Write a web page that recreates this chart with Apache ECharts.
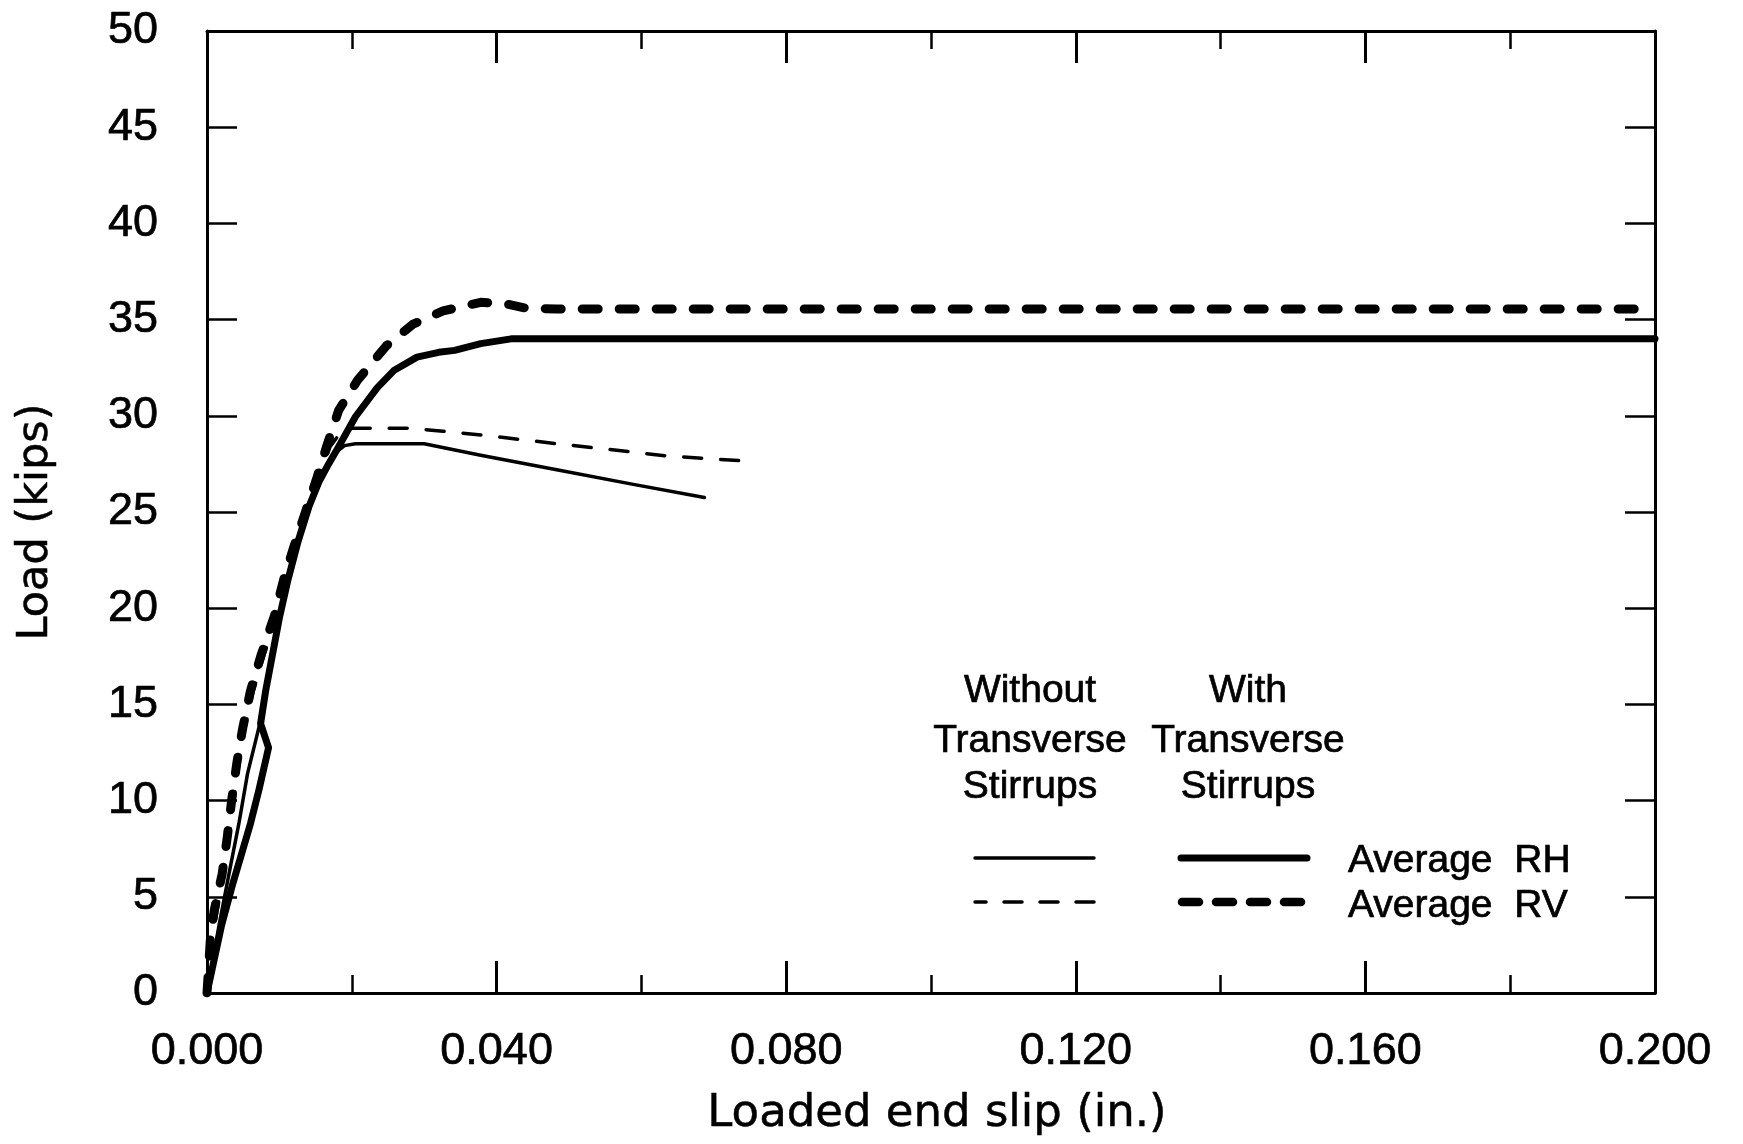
<!DOCTYPE html>
<html>
<head>
<meta charset="utf-8">
<script src="https://cdn.jsdelivr.net/npm/echarts@6/dist/echarts.min.js"></script>
<style>
html,body{margin:0;padding:0;background:#fff;}
#c{width:1743px;height:1144px;}
</style>
</head>
<body>
<div id="c"></div>
<script>
// Data: [slip (in.), load (kips)]
const rhWith = [[0,0],[0.0020,3.5],[0.0035,5.6],[0.0046,7.0],[0.0060,8.8],[0.0072,10.6],[0.0085,12.75],[0.0074,14.0],[0.0081,15.7],[0.0090,17.5],[0.0100,19.5],[0.0112,21.5],[0.0126,23.5],[0.0141,25.3],[0.0155,26.6],[0.0168,27.5],[0.0182,28.4],[0.0205,29.95],[0.0235,31.45],[0.0258,32.35],[0.0290,33.05],[0.0320,33.3],[0.0342,33.4],[0.0378,33.75],[0.0420,34.0],[0.0456,34.0],[0.2,34.0]];
const rvWith = [[0,0],[0.0005,3.0],[0.0010,4.3],[0.0021,6.2],[0.0028,8.1],[0.0034,10.0],[0.0041,11.9],[0.0049,13.7],[0.0060,15.7],[0.0075,17.6],[0.0093,19.6],[0.0106,21.5],[0.0120,23.2],[0.0136,25.0],[0.0152,26.8],[0.0166,28.5],[0.0182,30.3],[0.0208,31.85],[0.0248,33.65],[0.0284,34.75],[0.0326,35.45],[0.0378,35.9],[0.0415,35.8],[0.0440,35.6],[0.0483,35.55],[0.2,35.55]];
const rhWithout = [[0,0],[0.0017,3.6],[0.0033,6.7],[0.0044,8.8],[0.0056,11.4],[0.0073,14.0],[0.0081,15.7],[0.0090,17.5],[0.0100,19.5],[0.0112,21.5],[0.0126,23.5],[0.0141,25.3],[0.0155,26.6],[0.0168,27.5],[0.0178,28.1],[0.0190,28.45],[0.0205,28.55],[0.0300,28.55],[0.0378,27.95],[0.0483,27.2],[0.0587,26.45],[0.0687,25.75]];
const rvWithout = [[0,0],[0.0008,3.0],[0.0015,4.5],[0.0024,6.4],[0.0031,8.2],[0.0037,10.0],[0.0044,11.9],[0.0052,13.7],[0.0064,15.7],[0.0079,17.6],[0.0096,19.6],[0.0109,21.5],[0.0123,23.2],[0.0139,25.0],[0.0155,26.8],[0.0170,28.4],[0.0185,29.15],[0.0200,29.35],[0.0280,29.35],[0.0326,29.2],[0.0380,29.0],[0.0483,28.55],[0.0639,27.9],[0.0745,27.65]];

const xMin = 0, xMax = 0.2, xStep = 0.04;
const yMin = 0, yMax = 50, yStep = 5;
const xTitle = 'Loaded end slip (in.)';
const yTitle = 'Load (kips)';
const colHeads = [['Without','Transverse','Stirrups'],['With','Transverse','Stirrups']];
const rowNames = ['Average  RH','Average  RV'];

const chart = echarts.init(document.getElementById('c'), null, {renderer:'canvas'});
const black = '#000';
const lblFont = {color: black, fontFamily: 'Liberation Sans', fontSize: 45, textBorderColor: black, textBorderWidth: 0.7};

function xAxis(pos, labels) {
  return {
    type:'value', position: pos, min: xMin, max: xMax, interval: xStep,
    axisLine:{show:true, onZero:false, lineStyle:{color:black, width:3}},
    axisTick:{show:true, inside:true, length:32, lineStyle:{color:black, width:3}},
    minorTick:{show:true, splitNumber:2, length:18, lineStyle:{color:black, width:2.5}},
    splitLine:{show:false}, minorSplitLine:{show:false},
    axisLabel: Object.assign({show: labels, margin:36, formatter: v => v.toFixed(3)}, lblFont),
    name: labels ? xTitle : '', nameLocation:'middle', nameGap: 99,
    nameTextStyle:{color:black, fontFamily:'DejaVu Sans', fontSize:45, padding:[0,0,0,12], textBorderColor: black, textBorderWidth: 0.5}
  };
}
function yAxis(pos, labels) {
  return {
    type:'value', position: pos, min: yMin, max: yMax, interval: yStep,
    axisLine:{show:true, onZero:false, lineStyle:{color:black, width:3}},
    axisTick:{show:true, inside:true, length:30, lineStyle:{color:black, width:2.5}},
    splitLine:{show:false},
    axisLabel: Object.assign({show: labels, margin:49}, lblFont),
    name: labels ? yTitle : '', nameLocation:'middle', nameGap: 150,
    nameTextStyle:{color:black, fontFamily:'DejaVu Sans', fontSize:43, padding:[0,20,0,0], textBorderColor: black, textBorderWidth: 0.5}
  };
}
function line(data, width, dash) {
  return {
    type:'line', data: data, xAxisIndex:0, yAxisIndex:0,
    showSymbol:false, symbol:'none', silent:true, animation:false,
    lineStyle:{color:black, width: width, type: dash || 'solid', cap:'round', join:'round'}
  };
}

const legendFont = '39px "Liberation Sans"';
const graphics = [];
const colX = [1030, 1248];
const headY = [691, 741, 787];
colHeads.forEach((col, ci) => col.forEach((t, ri) => graphics.push({
  type:'text', style:{text:t, x: colX[ci], y: headY[ri], font: legendFont, fill: black, stroke: black, lineWidth: 0.7, align:'center', verticalAlign:'middle'}
})));
const rowY = [861, 906];
rowNames.forEach((t, i) => graphics.push({
  type:'text', style:{text:t, x:1348, y: rowY[i], font: legendFont, fill: black, stroke: black, lineWidth: 0.7, align:'left', verticalAlign:'middle'}
}));
graphics.push({type:'line', shape:{x1:975,y1:858,x2:1094,y2:858}, style:{stroke:black, lineWidth:3.5, lineCap:'round'}});
graphics.push({type:'line', shape:{x1:1181,y1:858,x2:1307,y2:858}, style:{stroke:black, lineWidth:7, lineCap:'round'}});
graphics.push({type:'line', shape:{x1:1094,y1:902,x2:975,y2:902}, style:{stroke:black, lineWidth:3.5, lineCap:'round', lineDash:[18,18]}});
graphics.push({type:'line', shape:{x1:1182,y1:902,x2:1306,y2:902}, style:{stroke:black, lineWidth:8.5, lineCap:'round', lineDash:[17,17]}});

chart.setOption({
  animation:false,
  backgroundColor:'#fff',
  grid:{left:207, right:88, top:31, bottom:151, containLabel:false, outerBoundsMode:'none'},
  xAxis:[xAxis('bottom', true), xAxis('top', false)],
  yAxis:[yAxis('left', true), yAxis('right', false)],
  series:[
    line(rvWithout, 3.5, [18,19]),
    line(rhWithout, 3.5),
    line(rvWith, 9, [16,21]),
    line(rhWith, 7)
  ],
  graphic: graphics
});
</script>
</body>
</html>
